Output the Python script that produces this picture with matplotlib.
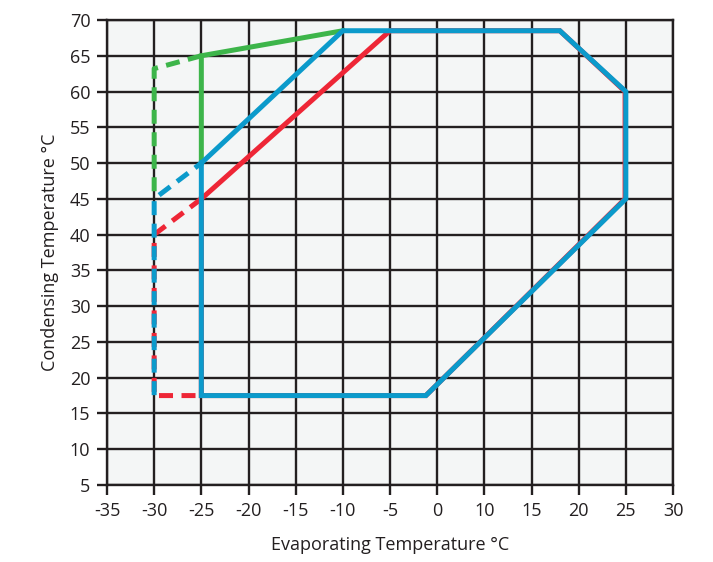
import matplotlib
matplotlib.use("Agg")
import matplotlib.pyplot as plt
from matplotlib import font_manager as fm

# ---- data (axis units: ticks evenly spaced, labels as printed in the reference) ----
x_tick_pos = [-35, -30, -25, -20, -15, -10, -5, 0, 5, 10, 15, 20, 25]
x_tick_labels = ["-35", "-30", "-25", "-20", "-15", "-10", "-5", "0", "10", "15", "20", "25", "30"]
y_ticks = [5, 10, 15, 20, 25, 30, 35, 40, 45, 50, 55, 60, 65, 70]

green_solid_x = [-25, -25, -10]
green_solid_y = [50, 65, 68.5]
green_dash_x = [-25, -30, -30]
green_dash_y = [65, 63.2, 45]

red_solid_x = [-25, -5, 13, 19.92, 19.92, -1.2, -25, -25]
red_solid_y = [45, 68.5, 68.5, 60, 45, 17.5, 17.5, 45]
red_dash_x = [-25, -30, -30, -25]
red_dash_y = [45, 40, 17.5, 17.5]

blue_solid_x = [-25, -10, 13, 20, 20, -1.2, -25, -25]
blue_solid_y = [50, 68.5, 68.5, 60, 45, 17.5, 17.5, 50]
blue_dash_x = [-25, -30, -30]
blue_dash_y = [50, 45, 17.5]

GREEN = "#3db54a"
RED = "#ee2636"
BLUE = "#0b9acb"

names = {f.name for f in fm.fontManager.ttflist}
tick_font = "Liberation Sans Narrow" if "Liberation Sans Narrow" in names else "Open Sans"
label_font = "Open Sans" if "Open Sans" in names else "DejaVu Sans"

fig = plt.figure(figsize=(7.13, 5.62), dpi=100)
ax = fig.add_axes([107 / 713, 1 - 485 / 562, (673 - 107) / 713, (485 - 20) / 562])
ax.set_facecolor("#f4f6f6")

ax.set_xlim(-35, 25)
ax.set_ylim(5, 70)
ax.set_xticks(x_tick_pos)
ax.set_xticklabels(x_tick_labels)
ax.set_yticks(y_ticks)
ax.grid(True, color="#231f20", linewidth=1.7)
ax.set_axisbelow(True)
for s in ax.spines.values():
    s.set_color("#231f20")
    s.set_linewidth(1.7)
ax.tick_params(axis="both", length=7, width=1.7, color="#231f20", labelsize=13,
               labelcolor="#231f20", pad=5)
for lab in ax.get_xticklabels() + ax.get_yticklabels():
    lab.set_fontfamily(tick_font)

lw = 3.6
dash = (0, (2.8, 1.7))
ax.plot(green_solid_x, green_solid_y, color=GREEN, lw=lw, solid_joinstyle="miter", zorder=3)
ax.plot(green_dash_x, green_dash_y, color=GREEN, lw=lw, linestyle=dash, zorder=3)
ax.plot(red_solid_x, red_solid_y, color=RED, lw=lw, solid_joinstyle="miter", zorder=4)
ax.plot(red_dash_x, red_dash_y, color=RED, lw=lw, linestyle=dash, zorder=4)
ax.plot(blue_solid_x, blue_solid_y, color=BLUE, lw=lw, solid_joinstyle="miter", zorder=5)
ax.plot(blue_dash_x, blue_dash_y, color=BLUE, lw=lw, linestyle=(1.2, (2.8, 1.7)), zorder=5)

ax.set_xlabel("Evaporating Temperature °C", fontfamily=label_font, fontsize=13,
              color="#231f20", labelpad=12)
ax.set_ylabel("Condensing Temperature °C", fontfamily=label_font, fontsize=13,
              color="#231f20", labelpad=8)

fig.savefig("out.png", dpi=100, facecolor="white")
